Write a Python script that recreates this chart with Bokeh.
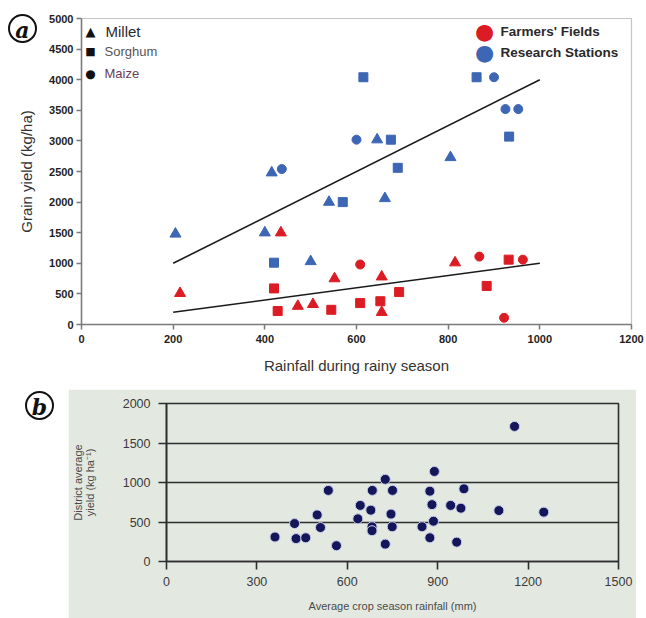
from bokeh.plotting import figure
from bokeh.models import Range1d, Label, Div, FixedTicker
from bokeh.layouts import column, row
from bokeh.embed import file_html
from bokeh.resources import INLINE

# ---------------- data: panel (a) ----------------
research_millet_x = [205, 400, 415, 500, 540, 645, 662, 805]
research_millet_y = [1480, 1500, 2480, 1030, 2000, 3020, 2060, 2730]
research_sorghum_x = [420, 570, 615, 675, 690, 862, 933]
research_sorghum_y = [1010, 2000, 4040, 3020, 2560, 4040, 3070]
research_maize_x = [437, 600, 900, 925, 953]
research_maize_y = [2540, 3020, 4040, 3520, 3520]

farmer_millet_x = [215, 435, 472, 505, 552, 655, 655, 815]
farmer_millet_y = [510, 1500, 300, 330, 750, 780, 200, 1010]
farmer_sorghum_x = [420, 428, 545, 608, 652, 693, 884, 932]
farmer_sorghum_y = [590, 220, 240, 350, 380, 530, 630, 1060]
farmer_maize_x = [608, 868, 922, 963]
farmer_maize_y = [980, 1110, 110, 1060]

trend_x = [200, 1000]
research_trend_y = [1000, 4000]
farmer_trend_y = [200, 1000]

a_xticks = [0, 200, 400, 600, 800, 1000, 1200]
a_yticks = [0, 500, 1000, 1500, 2000, 2500, 3000, 3500, 4000, 4500, 5000]

# ---------------- data: panel (b) ----------------
district_rain = [360, 425, 430, 462, 500, 511, 537, 564, 635, 643, 678, 683, 682, 682,
                 726, 750, 745, 749, 726, 848, 874, 881, 886, 874, 889, 1155, 987, 943,
                 977, 1103, 1252, 963]
district_yield = [310, 480, 290, 300, 590, 430, 900, 200, 540, 710, 650, 900, 440, 390,
                  1040, 900, 600, 440, 220, 440, 890, 720, 510, 300, 1140, 1710, 920, 710,
                  675, 645, 625, 245]
b_xticks = [0, 300, 600, 900, 1200, 1500]
b_yticks = [0, 500, 1000, 1500, 2000]

RED = "#dc1c24"
BLUE = "#3d66b4"
SANS = "Liberation Sans"

# ---------------- panel (a) ----------------
TOP_H = 389
FL, FT, FR, FB = 81, 18, 631, 324
p1 = figure(width=646, height=TOP_H, x_range=Range1d(0, 1200), y_range=Range1d(0, 5000),
            output_backend="svg", toolbar_location=None,
            min_border_left=FL, min_border_right=646 - FR, min_border_top=FT,
            min_border_bottom=TOP_H - FB,
            background_fill_color="white", border_fill_color="white",
            outline_line_color="#c4c4c4", outline_line_width=1.2)
p1.xgrid.visible = False
p1.ygrid.visible = False

for ax in (p1.xaxis[0], p1.yaxis[0]):
    ax.axis_line_color = "#7a7a7a"
    ax.axis_line_width = 1.5
    ax.major_tick_line_color = "#7a7a7a"
    ax.major_tick_line_width = 1.5
    ax.major_tick_in = 0
    ax.major_tick_out = 5
    ax.minor_tick_line_color = None
    ax.major_label_text_font = SANS
    ax.major_label_text_font_style = "bold"
    ax.major_label_text_font_size = "11px"
    ax.major_label_text_color = "#1e1e1e"
    ax.axis_label_text_font = SANS
    ax.axis_label_text_font_style = "normal"
    ax.axis_label_text_font_size = "15px"
    ax.axis_label_text_color = "#333333"

p1.xaxis.ticker = FixedTicker(ticks=a_xticks)
p1.yaxis.ticker = FixedTicker(ticks=a_yticks)
p1.xaxis.axis_label = "Rainfall during rainy season"
p1.yaxis.axis_label = "Grain yield (kg/ha)"
p1.xaxis.major_label_standoff = 5
p1.yaxis.major_label_standoff = 3
p1.xaxis.axis_label_standoff = 11
p1.yaxis.axis_label_standoff = 11

p1.line(trend_x, research_trend_y, line_color="#1a1a1a", line_width=1.6)
p1.line(trend_x, farmer_trend_y, line_color="#1a1a1a", line_width=1.6)

p1.scatter(research_millet_x, research_millet_y, marker="triangle", size=11,
           fill_color=BLUE, line_color=BLUE)
p1.scatter(research_sorghum_x, research_sorghum_y, marker="square", size=9,
           fill_color=BLUE, line_color=BLUE)
p1.scatter(research_maize_x, research_maize_y, marker="circle", size=9,
           fill_color=BLUE, line_color=BLUE)
p1.scatter(farmer_millet_x, farmer_millet_y, marker="triangle", size=11,
           fill_color=RED, line_color=RED)
p1.scatter(farmer_sorghum_x, farmer_sorghum_y, marker="square", size=9,
           fill_color=RED, line_color=RED)
p1.scatter(farmer_maize_x, farmer_maize_y, marker="circle", size=9,
           fill_color=RED, line_color=RED)


def lab(px, py, text, **kw):
    return Label(x=px - FL, y=FB - py, x_units="screen", y_units="screen",
                 text=text, text_baseline="middle", **kw)


# legend (shape)
p1.add_layout(lab(90, 31, "\u25B2", text_font="DejaVu Sans", text_font_size="13px",
                  text_align="center", text_color="#111111"))
p1.add_layout(lab(105, 31, "Millet", text_font=SANS, text_font_size="15px",
                  text_color="#2a2a2a"))
p1.add_layout(lab(90, 51, "\u25A0", text_font="DejaVu Sans", text_font_size="11px",
                  text_align="center", text_color="#111111"))
p1.add_layout(lab(104, 51, "Sorghum", text_font=SANS, text_font_size="13px",
                  text_color="#555555"))
p1.add_layout(lab(90, 73, "\u25CF", text_font="DejaVu Sans", text_font_size="12px",
                  text_align="center", text_color="#111111"))
p1.add_layout(lab(104, 73, "Maize", text_font=SANS, text_font_size="13px",
                  text_color="#6b4058"))
# legend (source)
p1.add_layout(lab(484, 31, "\u25CF", text_font="DejaVu Sans", text_font_size="22px",
                  text_align="center", text_color=RED))
p1.add_layout(lab(500, 31, "Farmers' Fields", text_font=SANS, text_font_size="13.5px",
                  text_font_style="bold", text_color="#2a2a2a"))
p1.add_layout(lab(484, 52, "\u25CF", text_font="DejaVu Sans", text_font_size="22px",
                  text_align="center", text_color=BLUE))
p1.add_layout(lab(500, 52, "Research Stations", text_font=SANS, text_font_size="13.5px",
                  text_font_style="bold", text_color="#2a2a2a"))


def tag_html(letter, left, top):
    return ("<div style=\"position:relative;left:%dpx;top:%dpx;width:29px;height:29px;"
            "border:2.5px solid #111;border-radius:50%%;text-align:center;"
            "font-family:'DejaVu Serif';font-style:italic;font-weight:bold;font-size:22px;"
            "line-height:28px;color:#111;\">%s</div>" % (left, top, letter))


# panel tag (a), overlaid on the top-left corner of panel (a)
TAG_H = 36
TAG_TOP = 14
tag_a = Div(text=tag_html("a", 8, 0), width=60, height=TAG_H,
            margin=(TAG_TOP - TOP_H, 0, TOP_H - TAG_TOP - TAG_H, 0))

# ---------------- panel (b) ----------------
BG = "#e3e9e1"
BW, BH = 568, 229
BFL, BFT, BFR, BFB = 94, 14, 550, 172
p2 = figure(width=BW, height=BH, x_range=Range1d(0, 1500), y_range=Range1d(0, 2000),
            output_backend="svg", toolbar_location=None,
            min_border_left=BFL, min_border_right=BW - BFR, min_border_top=BFT,
            min_border_bottom=BH - BFB,
            background_fill_color=BG, border_fill_color=BG,
            outline_line_color="#2e2e2e", outline_line_width=1.6)
p2.xgrid.visible = False
p2.ygrid.ticker = FixedTicker(ticks=b_yticks)
p2.ygrid.grid_line_color = "#2e2e2e"
p2.ygrid.grid_line_width = 1.6

for ax in (p2.xaxis[0], p2.yaxis[0]):
    ax.axis_line_color = "#2e2e2e"
    ax.axis_line_width = 1.6
    ax.major_tick_line_color = "#2e2e2e"
    ax.major_tick_line_width = 1.6
    ax.major_tick_in = 0
    ax.major_tick_out = 8
    ax.minor_tick_line_color = None
    ax.major_label_text_font = SANS
    ax.major_label_text_font_size = "12.5px"
    ax.major_label_text_color = "#3a3a3a"
    ax.axis_label_text_font = SANS
    ax.axis_label_text_font_style = "normal"
    ax.axis_label_text_font_size = "11px"
    ax.axis_label_text_color = "#4a4a4a"

p2.xaxis.ticker = FixedTicker(ticks=b_xticks)
p2.yaxis.ticker = FixedTicker(ticks=b_yticks)
p2.xaxis.axis_label = "Average crop season rainfall (mm)"
p2.yaxis.axis_label = "District average\nyield (kg ha\u207B\u00B9)"
p2.yaxis.axis_label_text_line_height = 1.0
p2.xaxis.major_label_standoff = 7
p2.yaxis.major_label_standoff = 8
p2.xaxis.axis_label_standoff = 11
p2.yaxis.axis_label_standoff = 24

p2.scatter(district_rain, district_yield, marker="circle", size=10,
           fill_color="#15155a", line_color="#c9cfe8", line_width=1)

tag_b = Div(text=tag_html("b", 25, 2), width=636 - BW, height=BH, margin=0)

layout = column(p1, tag_a, row(tag_b, p2, spacing=0), spacing=0)

open("out.html", "w").write(file_html(layout, INLINE))
